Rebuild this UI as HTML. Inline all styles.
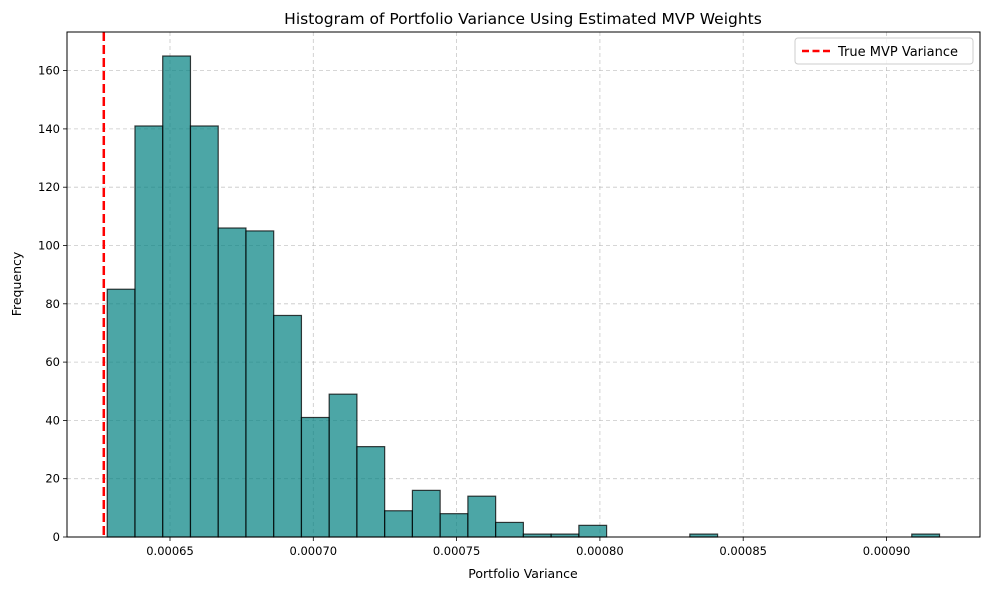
<!DOCTYPE html>
<html><head><meta charset="utf-8"><style>
body{margin:0;background:#fff;font-family:"Liberation Sans","DejaVu Sans",sans-serif}
svg text{font-family:"DejaVu Sans","Liberation Sans",sans-serif}
</style></head><body>
<svg width="989" height="590" viewBox="0 0 989 590" xmlns="http://www.w3.org/2000/svg">
<g id="grid"></g>
<g id="bars"></g>
<g id="axes"></g>
<text x="523" y="24" text-anchor="middle" font-size="15.5" fill="#000">Histogram of Portfolio Variance Using Estimated MVP Weights</text>
<text x="523" y="578" text-anchor="middle" font-size="12.5" fill="#000">Portfolio Variance</text>
<text x="21" y="284" text-anchor="middle" font-size="12.5" fill="#000" transform="rotate(-90 21 284)">Frequency</text>
<g>
<rect x="795" y="38" width="178" height="26" rx="3" fill="#fff" fill-opacity="0.8" stroke="#ccc"/>
<line x1="802" y1="51" x2="830" y2="51" stroke="#f00" stroke-width="2.5" stroke-dasharray="7,3.5"/>
<text x="838" y="56" font-size="13" fill="#000">True MVP Variance</text>
</g>
</svg>
<script>
const counts=[85,141,165,141,106,105,76,41,49,31,9,16,8,14,5,1,1,4,0,0,0,1,0,0,0,0,0,0,0,1];
const binStart=[0.0006281];
const binWidth=[0.00000968];
const trueVar=[0.0006269];
const xTicks=[0.00065,0.00070,0.00075,0.00080,0.00085,0.00090];
const xTickLabels=["0.00065","0.00070","0.00075","0.00080","0.00085","0.00090"];
const yTicks=[0,20,40,60,80,100,120,140,160];

const L=67,R=980,T=32,B=537;
const x=v=>170+(v-0.00065)*2866000;
const y=v=>B-v*2.915;
const NS="http://www.w3.org/2000/svg";
function mk(tag,attrs,parent){const e=document.createElementNS(NS,tag);for(const k in attrs)e.setAttribute(k,attrs[k]);parent.appendChild(e);return e;}
const grid=document.getElementById('grid'),bars=document.getElementById('bars'),axes=document.getElementById('axes');
xTicks.forEach((t,i)=>{
  const g=mk('line',{x1:x(t),x2:x(t),y1:T,y2:B,stroke:'#b0b0b0','stroke-opacity':0.7,'stroke-dasharray':'4,3','stroke-width':0.8},grid);
  
  
  const tk=mk('line',{x1:x(t),x2:x(t),y1:B,y2:B+4,stroke:'#000','stroke-width':0.8},axes);
  
  
  const tx=mk('text',{x:x(t),y:B+18,'text-anchor':'middle','font-size':11.5,fill:'#000'},axes);
  tx.textContent=xTickLabels[i];
  
  
});
yTicks.forEach(t=>{
  const g=mk('line',{x1:L,x2:R,y1:y(t),y2:y(t),stroke:'#b0b0b0','stroke-opacity':0.7,'stroke-dasharray':'4,3','stroke-width':0.8},grid);
  
  
  const tk=mk('line',{x1:L-4,x2:L,y1:y(t),y2:y(t),stroke:'#000','stroke-width':0.8},axes);
  
  
  const tx=mk('text',{x:L-7,y:y(t)+4,'text-anchor':'end','font-size':11.5,fill:'#000'},axes);
  tx.textContent=String(t);
  
  
});
counts.forEach((c,i)=>{
  const x0=x(binStart[0]+i*binWidth[0]),x1=x(binStart[0]+(i+1)*binWidth[0]);
  const r=mk('rect',{x:x0,y:y(c),width:x1-x0,height:B-y(c),fill:'#008080','fill-opacity':0.7,stroke:'#000','stroke-opacity':0.75,'stroke-width':1.2},bars);
  
  
});
const ml=mk('line',{x1:x(trueVar[0]),x2:x(trueVar[0]),y1:T,y2:B,stroke:'#f00','stroke-width':2.5,'stroke-dasharray':'9,4'},axes);


const fr=mk('rect',{x:L,y:T,width:R-L,height:B-T,fill:'none',stroke:'#000','stroke-width':1},axes);


</script>
</body></html>
